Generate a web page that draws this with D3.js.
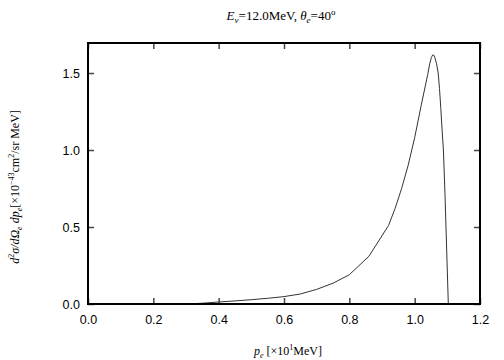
<!DOCTYPE html>
<html>
<head>
<meta charset="utf-8">
<script src="https://cdn.jsdelivr.net/npm/d3@7"></script>
<style>
  body { margin: 0; background: #fff; }
  svg { display: block; }
</style>
</head>
<body>
<div></div>
<script>
// electron momentum [x10 MeV]
const pe = [0.30, 0.35, 0.40, 0.45, 0.50, 0.55, 0.60, 0.65, 0.70, 0.75, 0.80, 0.86,
            0.92, 0.94, 0.96, 0.98, 1.00, 1.02, 1.04, 1.046, 1.051, 1.055, 1.059,
            1.062, 1.067, 1.072, 1.076, 1.080, 1.084, 1.088, 1.093, 1.098, 1.103];
// cross section [x10^-43 cm^2/sr MeV]
const xsec = [0.0, 0.005, 0.013, 0.020, 0.028, 0.037, 0.048, 0.065, 0.095, 0.135, 0.19, 0.31,
              0.51, 0.62, 0.75, 0.90, 1.08, 1.29, 1.49, 1.56, 1.60, 1.617, 1.615,
              1.60, 1.56, 1.50, 1.40, 1.27, 1.13, 1.0, 0.70, 0.35, 0.0];
const xTicks = [0.0, 0.2, 0.4, 0.6, 0.8, 1.0, 1.2];
const yTicks = [0.0, 0.5, 1.0, 1.5];

const width = 504, height = 360;
const plotL = 88, plotR = 480, plotT = 43, plotB = 304;
const tickLen = 6;

const x = d3.scaleLinear().domain([0, 1.2]).range([plotL, plotR]);
const y = d3.scaleLinear().domain([0, 1.695]).range([plotB, plotT]);

const svg = d3.select('body').select('div')
  .append('svg')
  .attr('width', width)
  .attr('height', height);

// ticks, inward, mirrored on all sides
const tickColor = '#444';
const xBottom = d3.axisBottom(x).tickValues(xTicks).tickSize(-tickLen).tickPadding(11)
  .tickFormat(d3.format('.1f'));
const xTop = d3.axisTop(x).tickValues(xTicks).tickSize(-tickLen).tickFormat('');
const yLeft = d3.axisLeft(y).tickValues(yTicks).tickSize(-tickLen).tickPadding(8)
  .tickFormat(d3.format('.1f'));
const yRight = d3.axisRight(y).tickValues(yTicks).tickSize(-tickLen).tickFormat('');

function styleAxis(g) {
  g.select('.domain').remove();
  g.selectAll('.tick line').attr('stroke', tickColor).attr('stroke-width', 1.5);
  g.selectAll('.tick text')
    .attr('fill', '#000')
    .style('font-family', '"Liberation Sans", Arial, sans-serif')
    .style('font-size', '12.5px');
}

svg.append('g').attr('transform', `translate(0,${plotB})`).call(xBottom).call(styleAxis);
svg.append('g').attr('transform', `translate(0,${plotT})`).call(xTop).call(styleAxis);
svg.append('g').attr('transform', `translate(${plotL},0)`).call(yLeft).call(styleAxis);
svg.append('g').attr('transform', `translate(${plotR},0)`).call(yRight).call(styleAxis);

// curve
const line = d3.line().x((d, i) => x(pe[i])).y(d => y(d));
svg.append('path')
  .datum(xsec)
  .attr('fill', 'none')
  .attr('stroke', '#333')
  .attr('stroke-width', 1)
  .attr('d', line);

// frame
svg.append('rect')
  .attr('x', plotL).attr('y', plotT)
  .attr('width', plotR - plotL).attr('height', plotB - plotT)
  .attr('fill', 'none')
  .attr('stroke', '#000')
  .attr('stroke-width', 2);

const serif = '"Liberation Serif", "Times New Roman", serif';

// title
const title = svg.append('text')
  .attr('x', 281).attr('y', 20)
  .attr('text-anchor', 'middle')
  .style('font-family', serif)
  .style('font-size', '13px');
title.append('tspan').style('font-style', 'italic').text('E');
title.append('tspan').style('font-style', 'italic').style('font-size', '9px').attr('dy', 3).text('ν');
title.append('tspan').attr('dy', -3).text('=12.0MeV,  ');
title.append('tspan').style('font-style', 'italic').text('θ');
title.append('tspan').style('font-style', 'italic').style('font-size', '9px').attr('dy', 3).text('e');
title.append('tspan').attr('dy', -3).text('=40');
title.append('tspan').style('font-size', '9px').attr('dy', -5).text('o');

// x label
const xl = svg.append('text')
  .attr('x', 288).attr('y', 355)
  .attr('text-anchor', 'middle')
  .style('font-family', serif)
  .style('font-size', '12px');
xl.append('tspan').style('font-style', 'italic').text('p');
xl.append('tspan').style('font-style', 'italic').style('font-size', '8px').attr('dy', 3).text('e');
xl.append('tspan').attr('dy', -3).text(' [×10');
xl.append('tspan').style('font-size', '8px').attr('dy', -5).text('1');
xl.append('tspan').attr('dy', 5).text('MeV]');

// y label
const yl = svg.append('text')
  .attr('transform', 'translate(19,187) rotate(-90)')
  .attr('text-anchor', 'middle')
  .style('font-family', serif)
  .style('font-size', '12px');
yl.append('tspan').style('font-style', 'italic').text('d');
yl.append('tspan').style('font-size', '8px').attr('dy', -5).text('2');
yl.append('tspan').style('font-style', 'italic').attr('dy', 5).text('σ/dΩ');
yl.append('tspan').style('font-style', 'italic').style('font-size', '8px').attr('dy', 3).text('e');
yl.append('tspan').style('font-style', 'italic').attr('dy', -3).text(' dp');
yl.append('tspan').style('font-style', 'italic').style('font-size', '8px').attr('dy', 3).text('e');
yl.append('tspan').attr('dy', -3).text('[×10');
yl.append('tspan').style('font-size', '8px').attr('dy', -5).text('−43');
yl.append('tspan').attr('dy', 5).text('cm');
yl.append('tspan').style('font-size', '8px').attr('dy', -5).text('2');
yl.append('tspan').attr('dy', 5).text('/sr MeV]');
</script>
</body>
</html>
